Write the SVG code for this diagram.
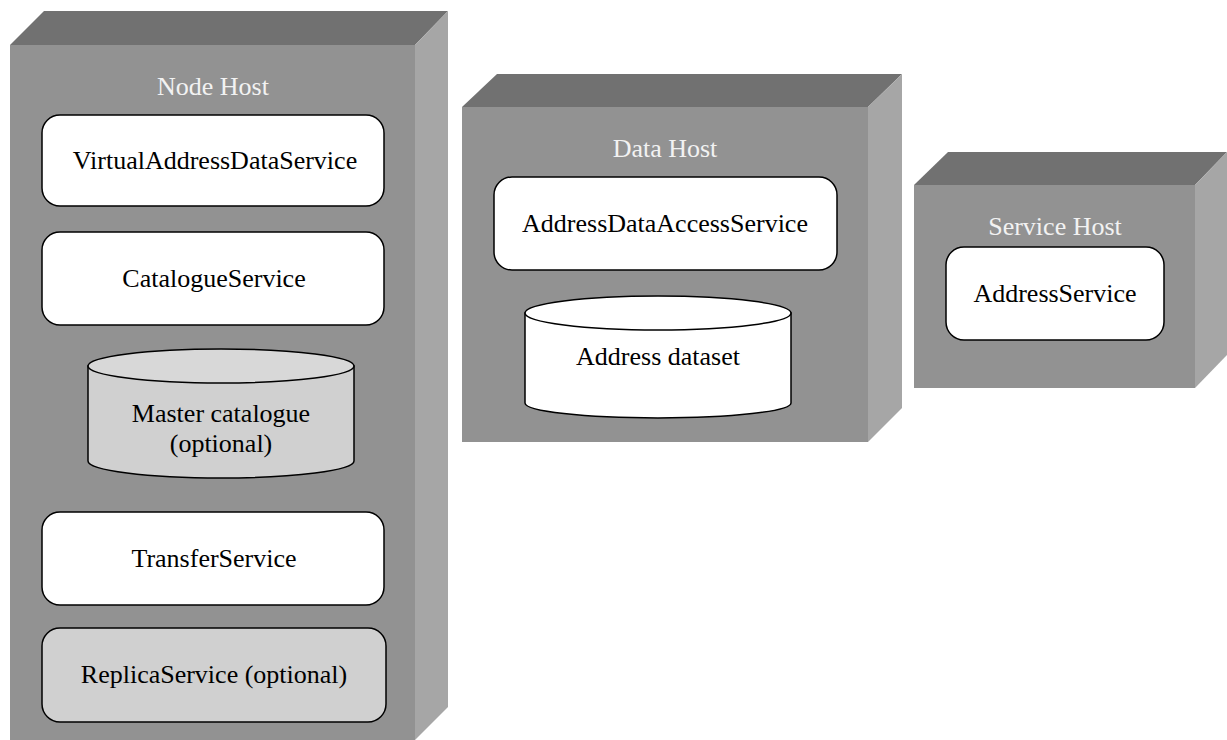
<svg xmlns="http://www.w3.org/2000/svg" width="1227" height="740" viewBox="0 0 1227 740">
<style>
.top{fill:#717171}
.front{fill:#929292}
.side{fill:#a6a6a6}
.title{font-family:"Liberation Serif",serif;font-size:26px;fill:#f2f2f2;text-anchor:middle}
.lbl{font-family:"Liberation Serif",serif;font-size:26px;fill:#000;text-anchor:middle}
.box{fill:#fff;stroke:#000;stroke-width:1.5}
.opt{fill:#d0d0d0;stroke:#000;stroke-width:1.5}
.optTop{fill:#d8d8d8;stroke:#000;stroke-width:1.5}
</style>
<rect width="1227" height="740" fill="#fff"/>
<g id="node-host">
<polygon class="top" points="10,45 44,11 448,11 415,45"/>
<polygon class="side" points="415,45 448,11 448,707 415,740"/>
<rect class="front" x="10" y="45" width="405" height="700"/>
<text class="title" x="213" y="95">Node Host</text>
</g>
<g id="virtual-address-data-service">
<rect class="box" x="42" y="115" width="342" height="91" rx="18"/>
<text class="lbl" x="215" y="169">VirtualAddressDataService</text>
</g>
<g id="catalogue-service">
<rect class="box" x="42" y="232" width="342" height="93" rx="18"/>
<text class="lbl" x="214" y="287">CatalogueService</text>
</g>
<g id="master-catalogue">
<path class="opt" d="M88,366 L88,461 A133,17 0 0 0 354,461 L354,366 Z"/>
<ellipse class="optTop" cx="221" cy="366" rx="133" ry="17"/>
<text class="lbl" x="221" y="422">Master catalogue</text>
<text class="lbl" x="221" y="452">(optional)</text>
</g>
<g id="transfer-service">
<rect class="box" x="42" y="512" width="342" height="93" rx="18"/>
<text class="lbl" x="214" y="567">TransferService</text>
</g>
<g id="replica-service">
<rect class="opt" x="42" y="628" width="344" height="94" rx="18"/>
<text class="lbl" x="214" y="683">ReplicaService (optional)</text>
</g>
<g id="data-host">
<polygon class="top" points="462,107 497,74 902,74 868,107"/>
<polygon class="side" points="868,107 902,74 902,408 868,442"/>
<rect class="front" x="462" y="107" width="406" height="335"/>
<text class="title" x="665" y="157">Data Host</text>
</g>
<g id="address-data-access-service">
<rect class="box" x="494" y="177" width="343" height="93" rx="18"/>
<text class="lbl" x="665" y="232">AddressDataAccessService</text>
</g>
<g id="address-dataset">
<path class="box" d="M525,313 L525,403 A133,15 0 0 0 791,403 L791,313 Z"/>
<ellipse class="box" cx="658" cy="313" rx="133" ry="17"/>
<text class="lbl" x="658" y="365">Address dataset</text>
</g>
<g id="service-host">
<polygon class="top" points="914,185 948,152 1227,152 1195,185"/>
<polygon class="side" points="1195,185 1227,152 1227,355 1195,388"/>
<rect class="front" x="914" y="185" width="281" height="203"/>
<text class="title" x="1055" y="235">Service Host</text>
</g>
<g id="address-service">
<rect class="box" x="946" y="247" width="218" height="93" rx="18"/>
<text class="lbl" x="1055" y="302">AddressService</text>
</g>
<g id="connectors"/>
</svg>
